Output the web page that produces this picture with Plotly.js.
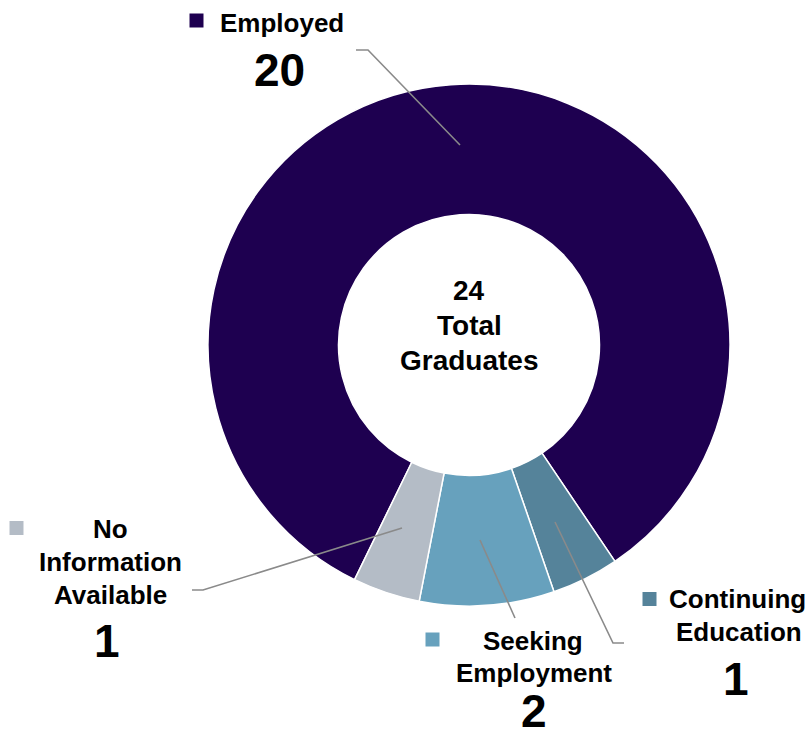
<!DOCTYPE html>
<html>
<head>
<meta charset="utf-8">
<script src="https://cdn.plot.ly/plotly-3.0.1.min.js"></script>
<style>
  html, body { margin: 0; padding: 0; background: #ffffff; }
  #chart { width: 809px; height: 738px; }
</style>
</head>
<body>
<div id="chart"></div>
<script>
// ---- data ----
var categories = ['Employed', 'Continuing Education', 'Seeking Employment', 'No Information Available'];
var counts = [20, 1, 2, 1];
var sliceColors = ['#1e0050', '#55839a', '#67a1bd', '#b4bcc6'];
var labelLines = [['Employed'], ['Continuing', 'Education'], ['Seeking', 'Employment'], ['No', 'Information', 'Available']];
var centerCaption = ['Total', 'Graduates'];

// ---- layout helpers (pixel positions of label blocks, leader lines) ----
var W = 809, H = 738;
function px(x) { return x / W; }
function py(y) { return 1 - y / H; }

var labelPos = [
  {lines: [[282, 23]], num: [279, 70], key: [196.5, 20.5], leader: [[460, 145], [368, 50], [356, 50]]},
  {lines: [[737, 599], [739, 632]], num: [736, 679], key: [649.5, 599], leader: [[555, 522], [613, 643], [624, 643]]},
  {lines: [[533, 641], [534, 673]], num: [534, 711], key: [432.5, 639.5], leader: [[480, 540], [515, 618]]},
  {lines: [[110, 529], [110, 562], [110, 595]], num: [107, 641], key: [16.5, 528], leader: [[402, 528], [203, 590], [192, 590]]}
];

var labelFont = {family: 'Liberation Sans, Arial, sans-serif', size: 26, color: '#000000', weight: 'bold'};
var numFont = {family: 'Liberation Sans Narrow, Liberation Sans, Arial, sans-serif', size: 46, color: '#000000', weight: 'bold'};
var centerFont = {family: 'Liberation Sans, Arial, sans-serif', size: 28, color: '#000000', weight: 'bold'};

var annotations = [];
var shapes = [];

categories.forEach(function (cat, i) {
  var p = labelPos[i];
  labelLines[i].forEach(function (t, j) {
    annotations.push({
      xref: 'paper', yref: 'paper', x: px(p.lines[j][0]), y: py(p.lines[j][1]),
      xanchor: 'center', yanchor: 'middle', showarrow: false,
      text: '<b>' + t + '</b>', font: labelFont
    });
  });
  annotations.push({
    xref: 'paper', yref: 'paper', x: px(p.num[0]), y: py(p.num[1]),
    xanchor: 'center', yanchor: 'middle', showarrow: false, borderpad: 0,
    text: '<b>' + counts[i] + '</b>', font: numFont
  });
  var k = 7;
  shapes.push({
    type: 'rect', xref: 'paper', yref: 'paper',
    x0: px(p.key[0] - k), x1: px(p.key[0] + k), y0: py(p.key[1] + k), y1: py(p.key[1] - k),
    fillcolor: sliceColors[i], line: {width: 0}
  });
  var path = p.leader.map(function (pt, j) {
    return (j === 0 ? 'M' : 'L') + px(pt[0]) + ',' + py(pt[1]);
  }).join(' ');
  shapes.push({
    type: 'path', xref: 'paper', yref: 'paper', path: path,
    line: {color: '#8a8a8a', width: 1.6}
  });
});

var total = counts.reduce(function (a, b) { return a + b; }, 0);
var centerLines = [String(total)].concat(centerCaption);
var centerY = [290, 325, 360];
centerLines.forEach(function (t, j) {
  annotations.push({
    xref: 'paper', yref: 'paper', x: px(469), y: py(centerY[j]),
    xanchor: 'center', yanchor: 'middle', showarrow: false,
    text: '<b>' + t + '</b>', font: centerFont
  });
});

var trace = {
  type: 'pie',
  labels: categories,
  values: counts,
  sort: false,
  direction: 'clockwise',
  rotation: 206,
  hole: 0.5,
  marker: {colors: sliceColors, line: {color: '#ffffff', width: 1.5}},
  textinfo: 'none',
  hoverinfo: 'label+value',
  domain: {x: [208 / W, 730 / W], y: [132 / H, 654 / H]}
};

var layout = {
  width: W, height: H,
  margin: {l: 0, r: 0, t: 0, b: 0},
  paper_bgcolor: '#ffffff',
  plot_bgcolor: '#ffffff',
  showlegend: false,
  annotations: annotations,
  shapes: shapes
};

Plotly.newPlot('chart', [trace], layout, {displayModeBar: false, staticPlot: true});
</script>
</body>
</html>
